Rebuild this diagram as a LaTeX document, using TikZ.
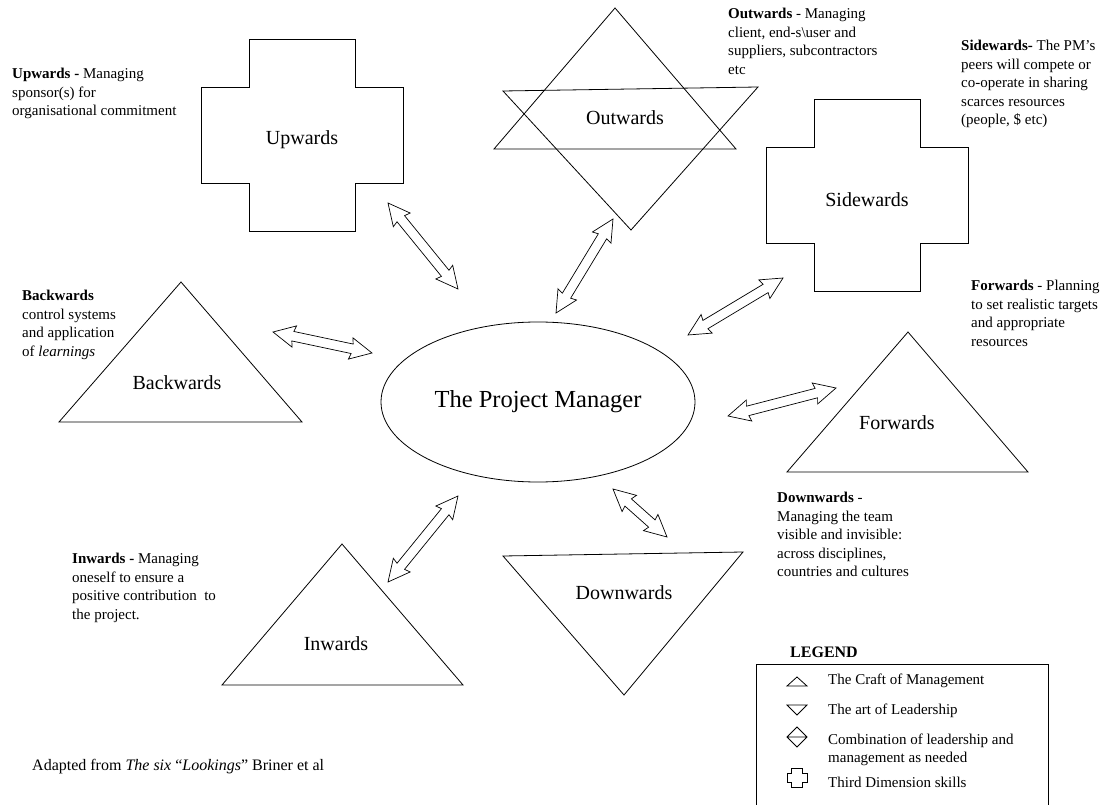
\documentclass[tikz,border=0pt]{standalone}
\usepackage{fontspec}
\setmainfont{Liberation Serif}
\usetikzlibrary{shapes.arrows,shapes.geometric,calc,positioning}

\tikzset{
  outline/.style={draw, line width=0.8pt, line join=miter},
  lbl/.style={inner sep=0pt, font=\fontsize{20}{24}\selectfont},
  note/.style={anchor=north west, inner sep=0pt, align=left, font=\fontsize{15}{18.5}\selectfont},
  legtext/.style={anchor=west, inner sep=0pt, align=left, font=\fontsize{15}{18}\selectfont},
  blockarrow/.style={double arrow, draw, fill=white, line width=0.7pt, inner xsep=0pt,
    inner ysep=4.5pt, double arrow head extend=6pt, double arrow tip angle=53,
    double arrow head indent=1.5pt},
  plus/.pic={
    \draw[outline] (-53,-96) -- (53,-96) -- (53,-48) -- (101,-48) -- (101,48) -- (53,48)
      -- (53,96) -- (-53,96) -- (-53,48) -- (-101,48) -- (-101,-48) -- (-53,-48) -- cycle;
  },
}

% block arrow between two named points
\newcommand{\dblarrow}[2]{%
  \path let \p1=($(#2)-(#1)$), \n1={atan2(\y1,\x1)}, \n2={veclen(\x1,\y1)} in
    node[blockarrow, rotate=\n1, minimum height=\n2] (#1#2) at ($(#1)!0.5!(#2)$) {};}

\begin{document}
\begin{tikzpicture}[x=1pt, y=-1pt]
\useasboundingbox (0,0) rectangle (1104,805);

% the six lookings
\pic at (302,135) {plus};
\node[lbl] (upw) at (302,140) {Upwards};
\pic at (867,195) {plus};
\node[lbl] (side) at (867,200) {Sidewards};

\draw[outline] (615,8) -- (736,149) -- (494,149) -- cycle;
\draw[outline] (503,91) -- (758,87) -- (631,230) -- cycle;
\node[lbl] (outw) at (625,118) {Outwards};

\draw[outline] (181,282) -- (302,422) -- (59,422) -- cycle;
\node[lbl] (back) at (177,383) {Backwards};
\draw[outline] (908,332) -- (1028,472) -- (787,472) -- cycle;
\node[lbl] (fwd) at (897,423) {Forwards};
\draw[outline] (342,544) -- (463,685) -- (222,685) -- cycle;
\node[lbl] (inw) at (336,644) {Inwards};
\draw[outline] (503,556) -- (743,552) -- (624,695) -- cycle;
\node[lbl] (down) at (624,593) {Downwards};

\node[outline, ellipse, minimum width=314pt, minimum height=160pt, inner sep=0pt,
  font=\fontsize{24.5}{28}\selectfont] (pm) at (538,402) {The Project Manager};

% arrow ends
\coordinate (upA) at (388,203);   \coordinate (upB) at (458,289);
\coordinate (outA) at (613,219);  \coordinate (outB) at (556,313);
\coordinate (sideA) at (783,278); \coordinate (sideB) at (688,335);
\coordinate (fwdA) at (836,388);  \coordinate (fwdB) at (728,416);
\coordinate (backA) at (273,332); \coordinate (backB) at (372,353);
\coordinate (inwA) at (458,496);  \coordinate (inwB) at (388,582);
\coordinate (downA) at (613,489); \coordinate (downB) at (667,537);
\foreach \a in {up,out,side,fwd,back,inw,down} {
  \dblarrow{\a A}{\a B}
}

% notes
\node[note] (upnote) at (12,68) {\textbf{Upwards -} Managing\\sponsor(s) for\\organisational commitment};
\node[note] (outnote) at (728,8) {\textbf{Outwards} - Managing\\client, end-s\textbackslash user and\\suppliers, subcontractors\\etc};
\node[note] (sidenote) at (961,40) {\textbf{Sidewards-} The PM’s\\peers will compete or\\co-operate in sharing\\scarces resources\\(people, \$ etc)};
\node[note] (fwdnote) at (971,280) {\textbf{Forwards} - Planning\\to set realistic targets\\and appropriate\\resources};
\node[note] (backnote) at (22,290) {\textbf{Backwards}\\control systems\\and application\\of \textit{learnings}};
\node[note] (inwnote) at (72,553) {\textbf{Inwards -} Managing\\oneself to ensure a\\positive contribution\ \ to\\the project.};
\node[note] (downnote) at (777,492) {\textbf{Downwards} -\\Managing the team\\visible and invisible:\\across disciplines,\\countries and cultures};

\node[anchor=west, inner sep=0pt, font=\fontsize{16}{19}\selectfont] (source) at (32,767)
  {Adapted from \textit{The six} “\textit{Lookings}” Briner et al};

% legend
\node[font=\fontsize{16}{19}\selectfont\bfseries] (legtitle) at (824,652) {LEGEND};
\draw[outline] (756,808) -- (756,664) -- (1048,664) -- (1048,808);
\draw[outline] (787,686) -- (807,686) -- (797,677) -- cycle;
\draw[outline] (787,705) -- (807,705) -- (797,715) -- cycle;
\draw[outline] (797,727) -- (807,737) -- (797,747) -- (787,737) -- cycle (787,737) -- (807,737);
\pic[scale=0.1] at (797,778) {plus};
\node[legtext] (leg1) at (828,681) {The Craft of Management};
\node[legtext] (leg2) at (828,711) {The art of Leadership};
\node[legtext] (leg3) at (828,750) {Combination of leadership and\\management as needed};
\node[legtext] (leg4) at (828,782) {Third Dimension skills};
\end{tikzpicture}
\end{document}
